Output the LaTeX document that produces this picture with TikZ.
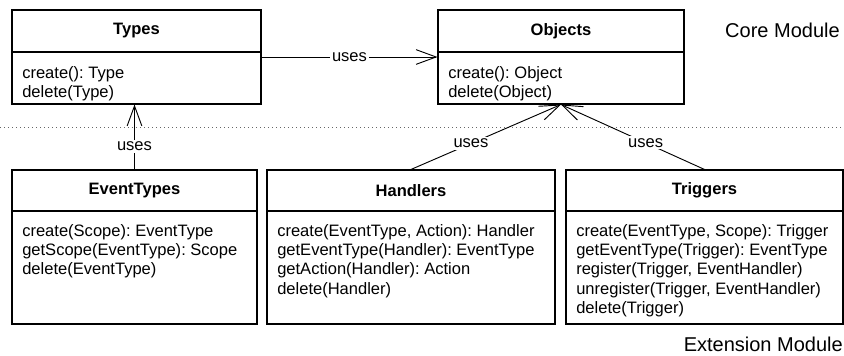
\documentclass[tikz,border=0pt]{standalone}
\usepackage{fontspec}
\setmainfont{Liberation Sans}
\usetikzlibrary{arrows.meta,positioning,fit}

\begin{document}
\frenchspacing
\begin{tikzpicture}[x=0.75pt,y=-0.75pt,
    font=\fontsize{12.4}{14.5}\selectfont,
    classbox/.style={draw,line width=0.8pt,inner sep=0pt},
    classname/.style={font=\fontsize{12.4}{14.5}\selectfont\bfseries},
    ops/.style={align=left,anchor=north west,inner sep=0pt},
    uses/.style={-{Straight Barb[length=15pt,width=11pt]},line width=0.7pt},
    useslbl/.style={fill=white,inner sep=1.5pt},
    module/.style={font=\fontsize{15}{18}\selectfont,anchor=east,inner sep=0pt}]
  \useasboundingbox (0,0) rectangle (844,356);

  % core module
  \node[classbox,fit={(12,10) (261,104)}] (types) {};
  \draw[line width=0.8pt] (12,52) -- (261,52);
  \node[classname] (types-name) at (136.5,31) {Types};
  \node[ops] (types-ops) at (22,66) {create(): Type\\delete(Type)};

  \node[classbox,fit={(438,10) (684,104)}] (objects) {};
  \draw[line width=0.8pt] (438,52) -- (684,52);
  \node[classname] (objects-name) at (561,31) {Objects};
  \node[ops] (objects-ops) at (448,66) {create(): Object\\delete(Object)};

  \node[module] (core) at (840,30) {Core Module};

  % module border
  \draw[gray!80!black,line width=0.7pt,dash pattern=on 0.75pt off 2.25pt] (0,127) -- (844,127);

  % extension module
  \node[classbox,fit={(12,170) (257,324)}] (evtypes) {};
  \draw[line width=0.8pt] (12,211) -- (257,211);
  \node[classname] (evtypes-name) at (134.5,190.5) {EventTypes};
  \node[ops] (evtypes-ops) at (22,224) {create(Scope): EventType\\getScope(EventType): Scope\\delete(EventType)};

  \node[classbox,fit={(267,170) (555,324)}] (handlers) {};
  \draw[line width=0.8pt] (267,211) -- (555,211);
  \node[classname] (handlers-name) at (411,190.5) {Handlers};
  \node[ops] (handlers-ops) at (277,224) {create(EventType, Action): Handler\\getEventType(Handler): EventType\\getAction(Handler): Action\\delete(Handler)};

  \node[classbox,fit={(566,170) (843,324)}] (triggers) {};
  \draw[line width=0.8pt] (566,211) -- (843,211);
  \node[classname] (triggers-name) at (704.5,190.5) {Triggers};
  \node[ops] (triggers-ops) at (576,224) {create(EventType, Scope): Trigger\\getEventType(Trigger): EventType\\register(Trigger, EventHandler)\\unregister(Trigger, EventHandler)\\delete(Trigger)};

  \node[module] (ext) at (843,344) {Extension Module};

  % dependencies
  \draw[uses] (types.east) -- node[useslbl] {uses} (objects.west);
  \draw[uses] (evtypes.north) -- node[useslbl,pos=0.36] {uses} (evtypes.north |- types.south);
  \draw[uses] (handlers.north) -- node[useslbl,pos=0.4] {uses} (objects.south);
  \draw[uses] (triggers.north) -- node[useslbl,pos=0.41] {uses} (objects.south);
\end{tikzpicture}
\end{document}
